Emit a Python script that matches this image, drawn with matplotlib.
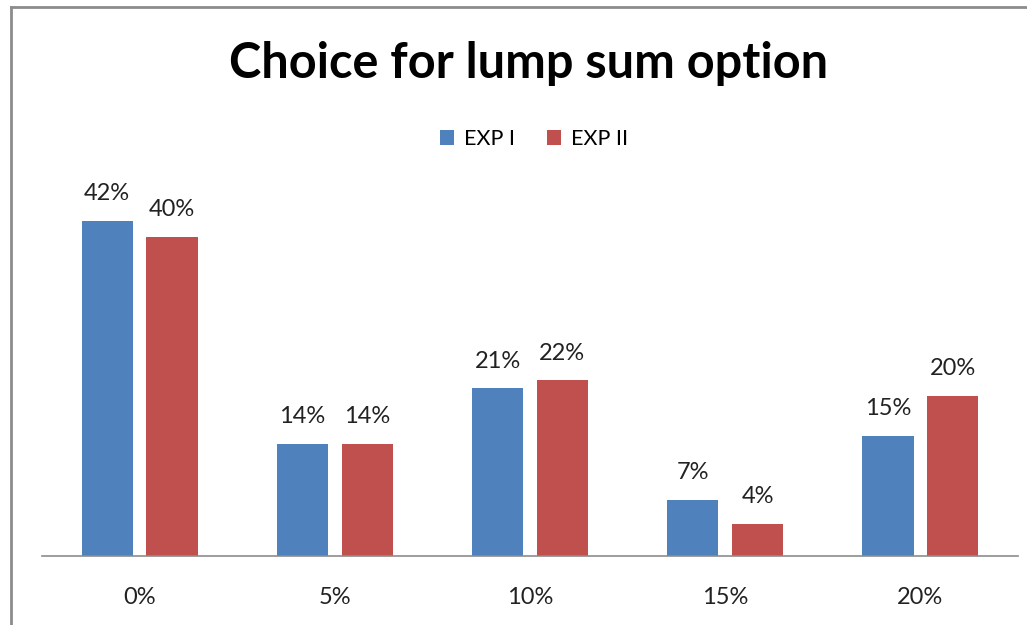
import numpy as np
import matplotlib.pyplot as plt
from matplotlib.lines import Line2D

categories = ["0%", "5%", "10%", "15%", "20%"]
exp1 = [42, 14, 21, 7, 15]
exp2 = [40, 14, 22, 4, 20]
series_names = ["EXP I", "EXP II"]

blue = "#4F81BD"
red = "#C0504D"

plt.rcParams['font.family'] = ['Lato', 'DejaVu Sans']

fig = plt.figure(figsize=(10.27, 6.25), dpi=100)

# chart frame (only top and left show in the crop)
fig.add_artist(Line2D([11 / 1027, 11 / 1027], [0, 1 - 7 / 625], color="#8c8c8c", lw=2))
fig.add_artist(Line2D([11 / 1027, 1], [1 - 7 / 625, 1 - 7 / 625], color="#8c8c8c", lw=2))

ax = fig.add_axes([42 / 1027, 69 / 625, 976 / 1027, 396 / 625])

x = np.arange(len(categories))
w = 0.262
off = 0.166
b1 = ax.bar(x - off, exp1, w, color=blue, label=series_names[0])
b2 = ax.bar(x + off, exp2, w, color=red, label=series_names[1])

for bars, vals in ((b1, exp1), (b2, exp2)):
    for rect, v in zip(bars, vals):
        ax.annotate(f"{v}%", (rect.get_x() + rect.get_width() / 2, rect.get_height()),
                    xytext=(0, 15), textcoords="offset points",
                    ha="center", va="baseline", fontsize=17, color="#222222")

ax.set_xlim(-0.5, len(categories) - 0.5)
ax.set_ylim(0, 49.6)
ax.set_xticks(x)
ax.set_xticklabels(categories, fontsize=17, color="#222222")
ax.tick_params(axis="x", length=0, pad=22)
ax.set_yticks([])
for s in ("top", "right", "left"):
    ax.spines[s].set_visible(False)
ax.spines["bottom"].set_color("#8c8c8c")
ax.spines["bottom"].set_linewidth(1.2)

fig.text(529 / 1027, 1 - 78 / 625, "Choice for lump sum option", ha="center", va="baseline",
         fontsize=35, fontweight="bold", color="black")

fig.legend(handles=[b1, b2], labels=series_names, loc="center",
           bbox_to_anchor=(534 / 1027, 1 - 139 / 625), ncol=2, frameon=False,
           fontsize=15.5, handlelength=0.65, handleheight=0.65, handletextpad=0.45,
           columnspacing=1.5)

fig.savefig("out.png", dpi=100)
